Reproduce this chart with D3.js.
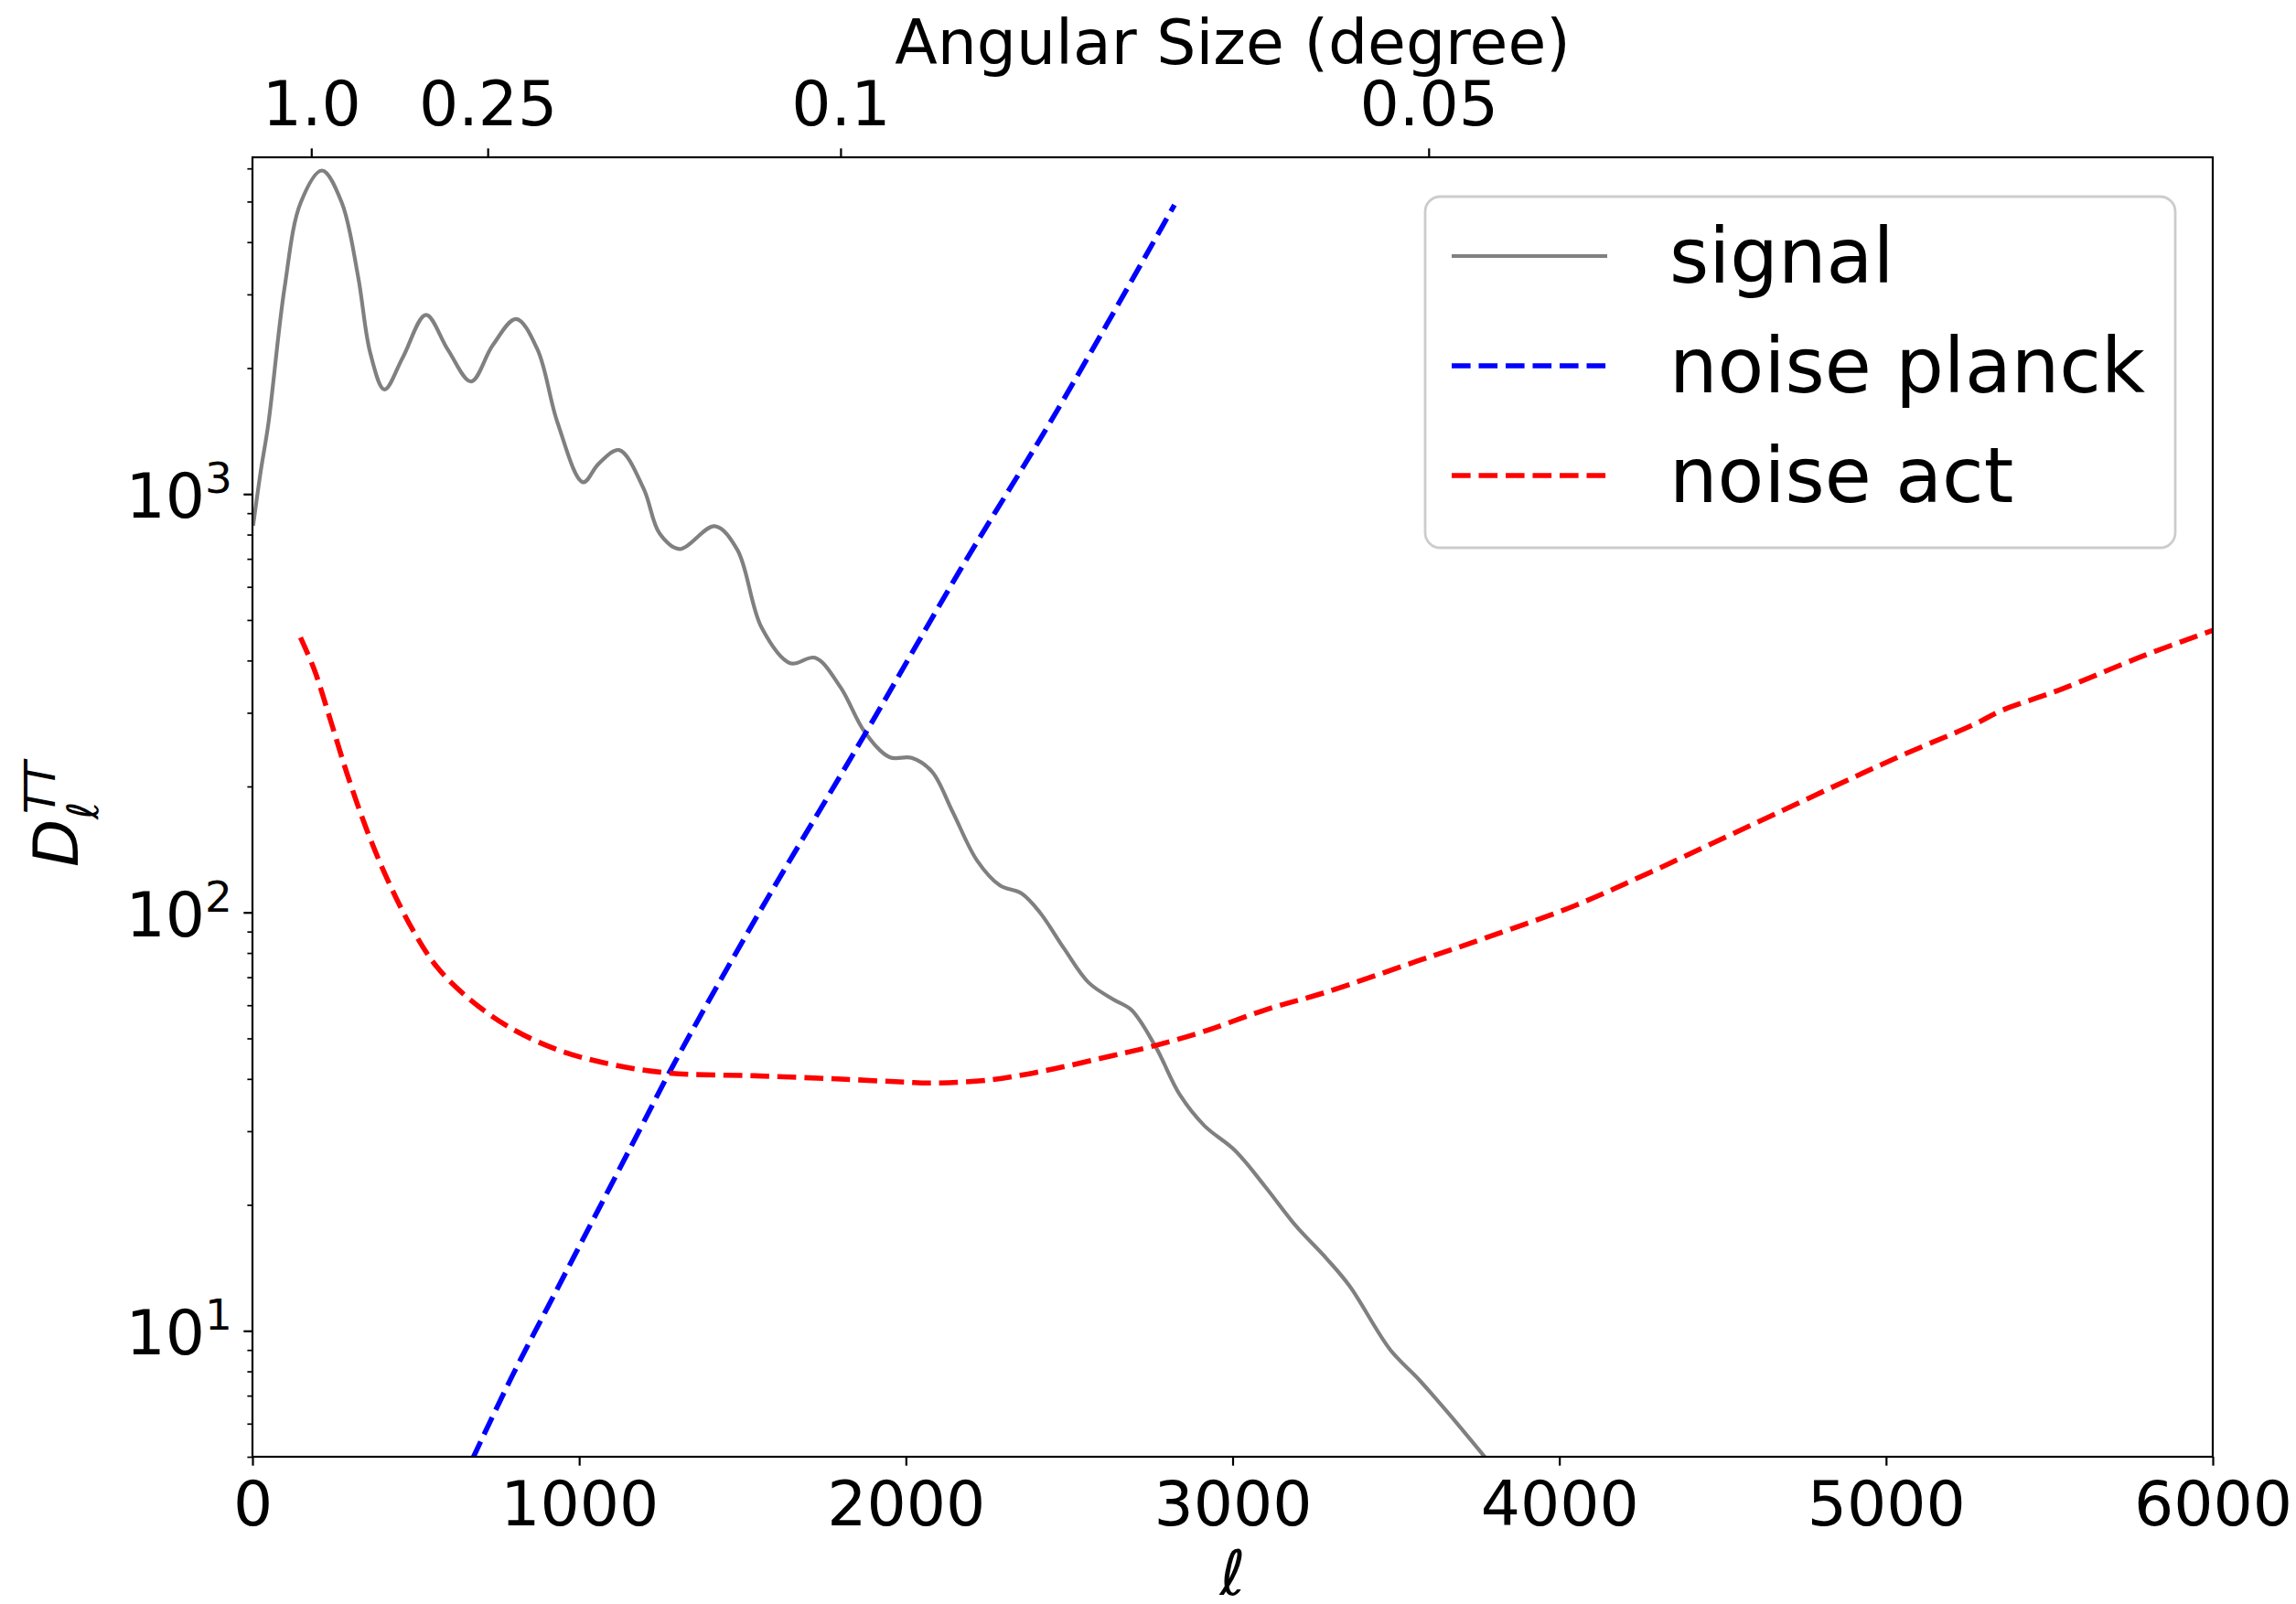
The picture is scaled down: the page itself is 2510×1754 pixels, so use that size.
<!DOCTYPE html>
<html>
<head>
<meta charset="utf-8">
<script src="https://cdn.jsdelivr.net/npm/d3@7"></script>
<style>
  body { margin: 0; background: #fff; }
  svg { display: block; font-family: "DejaVu Sans", sans-serif; }
</style>
</head>
<body>
<div id="chart"></div>
<script>
    'use strict';

    // values
    var signalEll = [2, 25, 49, 98, 148, 213, 273, 323, 361, 404, 460, 531, 598, 669, 735, 807, 872, 934, 1012, 1059, 1122, 1197, 1246, 1307, 1415, 1484, 1558, 1646, 1722, 1800, 1874, 1950, 2018, 2080, 2143, 2218, 2288, 2354, 2410, 2484, 2559, 2634, 2690, 2764, 2839, 2914, 3007, 3100, 3194, 3287, 3358, 3483, 3570, 3657, 3790];
    var signalDl = [840, 1130, 1479, 3105, 4980, 5930, 4980, 3320, 2166, 1778, 2120, 2680, 2214, 1858, 2265, 2619, 2218, 1479, 1067, 1180, 1274, 1031, 805, 739, 838, 736, 480, 394, 406, 345, 270, 235, 234, 217, 174, 133, 116, 111, 100, 82, 68, 62, 58.5, 47.8, 36.6, 30.9, 27.0, 22.1, 17.8, 14.9, 12.8, 9.0, 7.65, 6.4, 4.8];

    var planckEll = [674, 795, 926, 1056, 1187, 1289, 1538, 1875, 2167, 2461, 2822];
    var planckDl = [4.95, 7.8, 12.3, 19.3, 30.4, 43.3, 96, 267, 660, 1574, 4910];

    var actEll = [147, 190, 240, 290, 352, 415, 490, 565, 665, 789, 939, 1101, 1276, 1538, 1788, 1997, 2074, 2260, 2447, 2634, 2760, 2914, 3100, 3287, 3563, 3782, 4050, 4281, 4537, 5036, 5268, 5355, 5530, 5793, 6000];
    var actDl = [454, 379, 286, 214, 156, 119, 91, 74, 62, 53, 46.8, 43.3, 41.3, 40.7, 40.0, 39.3, 39.1, 39.8, 42.2, 45.5, 48.0, 52.0, 58.5, 64.5, 76.4, 87.3, 104, 125, 155, 235, 281, 304, 340, 412, 472];

    var ellTicks = [0, 1000, 2000, 3000, 4000, 5000, 6000];
    var angleTicks = [1.0, 0.25, 0.1, 0.05];
    var angleLabels = ['1.0', '0.25', '0.1', '0.05'];
    var decadeTicks = [10, 100, 1000];
    var decadeExp = ['1', '2', '3'];
    var seriesNames = ['signal', 'noise planck', 'noise act'];

    drawChart('#chart');

    function drawChart(elementPath) {

        var width = 2510,
            height = 1754,
            margin = {top: 172, right: 91, bottom: 161, left: 276};

        var tickFont = 68,
            legendFont = 83,
            majorTick = 9.7,
            minorTick = 5.6;

        var x = d3.scaleLinear()
            .domain([0, 6000])
            .range([margin.left, width - margin.right]);

        var y = d3.scaleLog()
            .domain([5, 6380])
            .range([height - margin.bottom, margin.top]);

        var svg = d3.select(elementPath).append('svg')
            .attr('width', width)
            .attr('height', height);

        svg.append('defs').append('clipPath')
            .attr('id', 'plotClip')
          .append('rect')
            .attr('x', x(0))
            .attr('y', y(6380))
            .attr('width', x(6000) - x(0))
            .attr('height', y(5) - y(6380));

        var styles = [
            {color: '#808080', width: 4.17, dash: null},
            {color: '#0000ff', width: 5.56, dash: '20.6,8.9'},
            {color: '#ff0000', width: 5.56, dash: '20.6,8.9'}
        ];

        var series = [
            d3.zip(signalEll, signalDl),
            d3.zip(planckEll, planckDl),
            d3.zip(actEll, actDl)
        ];

        var line = d3.line()
            .x(function(d) { return x(d[0]); })
            .y(function(d) { return y(d[1]); })
            .curve(d3.curveCatmullRom.alpha(0.5));

        svg.append('g')
            .attr('clip-path', 'url(#plotClip)')
          .selectAll('path')
            .data(series)
          .enter().append('path')
            .attr('d', line)
            .attr('fill', 'none')
            .attr('stroke', function(d, i) { return styles[i].color; })
            .attr('stroke-width', function(d, i) { return styles[i].width; })
            .attr('stroke-dasharray', function(d, i) { return styles[i].dash; });

        // bottom axis
        var bottom = svg.append('g')
            .attr('transform', 'translate(0,' + y(5) + ')')
            .call(d3.axisBottom(x)
                .tickValues(ellTicks)
                .tickSize(majorTick)
                .tickFormat(d3.format('d')));
        styleAxis(bottom, tickFont);
        bottom.selectAll('text').attr('y', 75).attr('dy', null);

        // top axis: angular size in degrees, ell = 180 / theta
        var top = svg.append('g')
            .attr('transform', 'translate(0,' + y(6380) + ')')
            .call(d3.axisTop(x)
                .tickValues(angleTicks.map(function(a) { return 180 / a; }))
                .tickSize(majorTick)
                .tickFormat(function(d, i) { return angleLabels[i]; }));
        styleAxis(top, tickFont);
        top.selectAll('text').attr('y', -35).attr('dy', null);

        // left axis, minor then major ticks
        var minor = y.ticks().filter(function(v) { return decadeTicks.indexOf(v) < 0; });
        var leftMinor = svg.append('g')
            .attr('transform', 'translate(' + x(0) + ',0)')
            .call(d3.axisLeft(y).tickValues(minor).tickSize(minorTick).tickFormat(''));
        styleAxis(leftMinor, tickFont);
        leftMinor.selectAll('line').attr('stroke-width', 1.7);

        var leftMajor = svg.append('g')
            .attr('transform', 'translate(' + x(0) + ',0)')
            .call(d3.axisLeft(y).tickValues(decadeTicks).tickSize(majorTick).tickFormat(''));
        styleAxis(leftMajor, tickFont);

        var ylab = svg.selectAll('.ylab')
            .data(decadeTicks)
          .enter().append('text')
            .attr('class', 'ylab')
            .attr('x', 254)
            .attr('y', function(d) { return y(d) + 26; })
            .attr('text-anchor', 'end')
            .attr('font-size', tickFont);
        ylab.append('tspan').text('10');
        ylab.append('tspan')
            .attr('font-size', 47)
            .attr('dy', -27)
            .text(function(d, i) { return decadeExp[i]; });

        // frame
        svg.append('rect')
            .attr('x', x(0))
            .attr('y', y(6380))
            .attr('width', x(6000) - x(0))
            .attr('height', y(5) - y(6380))
            .attr('fill', 'none')
            .attr('stroke', '#000')
            .attr('stroke-width', 2.2);

        // axis titles
        svg.append('text')
            .attr('x', (x(0) + x(6000)) / 2)
            .attr('y', 70)
            .attr('text-anchor', 'middle')
            .attr('font-size', tickFont)
            .text('Angular Size (degree)');

        svg.append('text')
            .attr('x', (x(0) + x(6000)) / 2)
            .attr('y', 1744)
            .attr('text-anchor', 'middle')
            .attr('font-size', tickFont)
            .attr('font-style', 'italic')
            .text('\u2113');

        var ytitle = svg.append('g')
            .attr('transform', 'translate(85,948) rotate(-90)')
            .attr('font-style', 'italic');
        ytitle.append('text')
            .attr('font-size', tickFont)
            .text('D');
        ytitle.append('text')
            .attr('x', 52)
            .attr('y', 22)
            .attr('font-size', 47)
            .text('\u2113');
        ytitle.append('text')
            .attr('x', 58)
            .attr('y', -25)
            .attr('font-size', 47)
            .text('TT');

        // legend
        var legend = svg.append('g');
        legend.append('rect')
            .attr('x', 1558)
            .attr('y', 215)
            .attr('width', 820)
            .attr('height', 384)
            .attr('rx', 16.6)
            .attr('fill', '#fff')
            .attr('fill-opacity', 0.8)
            .attr('stroke', '#cccccc')
            .attr('stroke-width', 2.8);

        var item = legend.selectAll('.item')
            .data(seriesNames)
          .enter().append('g')
            .attr('class', 'item')
            .attr('transform', function(d, i) { return 'translate(0,' + (280 + i * 120) + ')'; });

        item.append('line')
            .attr('x1', 1587)
            .attr('x2', 1757)
            .attr('stroke', function(d, i) { return styles[i].color; })
            .attr('stroke-width', function(d, i) { return styles[i].width; })
            .attr('stroke-dasharray', function(d, i) { return styles[i].dash; });

        item.append('text')
            .attr('x', 1825)
            .attr('y', 29)
            .attr('font-size', legendFont)
            .text(function(d) { return d; });
    }

    function styleAxis(g, fontSize) {
        g.attr('font-family', null)
            .attr('font-size', fontSize);
        g.select('.domain').remove();
        g.selectAll('line').attr('stroke-width', 2.2);
        g.selectAll('text').attr('fill', '#000');
    }
</script>
</body>
</html>
